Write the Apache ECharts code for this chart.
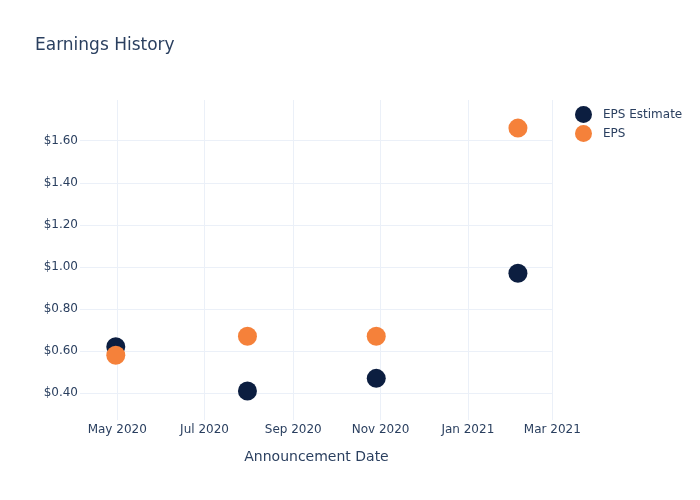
<!DOCTYPE html>
<html><head><meta charset="utf-8">
<script src="https://cdn.jsdelivr.net/npm/echarts@6/dist/echarts.min.js"></script>
<style>html,body{margin:0;padding:0;background:#fff}#c{width:700px;height:500px}</style>
</head><body><div id="c"></div>
<script>
const dates = ['2020-04-30', '2020-07-31', '2020-10-29', '2021-02-05'];
const epsEstimate = [0.62, 0.41, 0.47, 0.97];
const eps = [0.58, 0.67, 0.67, 1.66];
const xTickDates = ['2020-05-01', '2020-07-01', '2020-09-01', '2020-11-01', '2021-01-01', '2021-03-01'];
const xTickLabels = ['May 2020', 'Jul 2020', 'Sep 2020', 'Nov 2020', 'Jan 2021', 'Mar 2021'];
const yTicks = [0.4, 0.6, 0.8, 1.0, 1.2, 1.4, 1.6];

const t = s => new Date(s + 'T00:00:00Z').getTime();
const xTickVals = xTickDates.map(t);
const labelMap = {};
xTickVals.forEach((v, i) => labelMap[v] = xTickLabels[i]);

const font = 'DejaVu Sans';
const txt = '#2a3f5f';
const grid = '#ebf0f8';

const chart = echarts.init(document.getElementById('c'));
chart.setOption({
  animation: false,
  backgroundColor: '#fff',
  textStyle: { fontFamily: font },
  title: {
    text: 'Earnings History', left: 30, top: 32,
    textStyle: { fontFamily: font, fontSize: 17, fontWeight: 'normal', color: txt }
  },
  legend: {
    orient: 'vertical', left: 570, top: 101, itemGap: 2,
    icon: 'circle', itemWidth: 17, itemHeight: 17,
    textStyle: { fontFamily: font, fontSize: 12, color: txt, padding: [0, 0, 0, 6] },
    data: ['EPS Estimate', 'EPS']
  },
  grid: { left: 80, right: 147, top: 100, bottom: 80, containLabel: false },
  xAxis: {
    type: 'value',
    min: t('2020-04-05'), max: t('2021-03-01') + 12 * 3600 * 1000,
    name: 'Announcement Date', nameLocation: 'middle', nameGap: 30,
    nameTextStyle: { fontFamily: font, fontSize: 14, color: txt },
    axisLine: { show: false }, axisTick: { show: false, customValues: xTickVals },
    splitLine: { show: true, lineStyle: { color: grid, width: 1 } },
    axisLabel: {
      customValues: xTickVals, fontFamily: font, fontSize: 12, color: txt, margin: 4,
      formatter: v => labelMap[v] || ''
    }
  },
  yAxis: {
    type: 'value', min: 0.272, max: 1.7936,
    axisLine: { show: false }, axisTick: { show: false, customValues: yTicks },
    splitLine: { show: true, lineStyle: { color: grid, width: 1 } },
    axisLabel: {
      customValues: yTicks, fontFamily: font, fontSize: 12, color: txt, margin: 2,
      formatter: v => '$' + v.toFixed(2)
    }
  },
  series: [
    { name: 'EPS Estimate', type: 'scatter', symbolSize: 19,
      itemStyle: { color: '#0c1e40', opacity: 1 },
      data: dates.map((d, i) => [t(d), epsEstimate[i]]) },
    { name: 'EPS', type: 'scatter', symbolSize: 19,
      itemStyle: { color: '#f5813a', opacity: 1 },
      data: dates.map((d, i) => [t(d), eps[i]]) }
  ]
});
</script></body></html>
